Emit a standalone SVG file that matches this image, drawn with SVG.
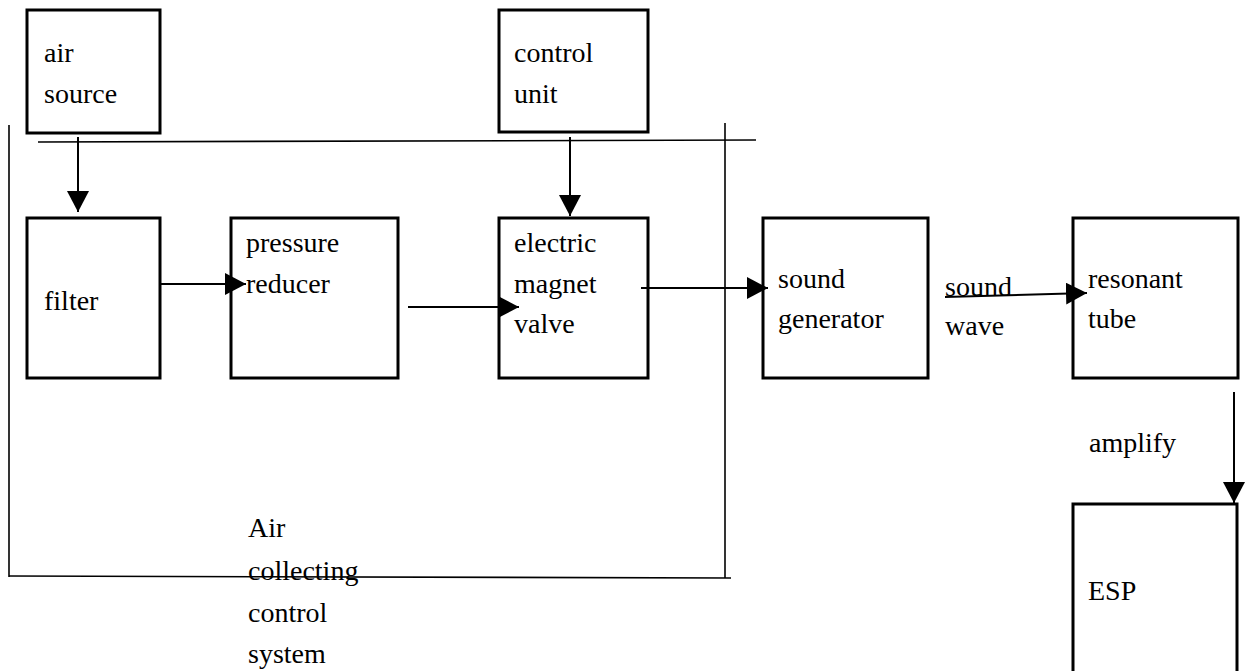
<svg xmlns="http://www.w3.org/2000/svg" width="1251" height="671" viewBox="0 0 1251 671">
<defs>
<style>
.box{fill:#fff;stroke:#000;stroke-width:3}
.t{font-family:"Liberation Serif","Times New Roman",serif;font-size:28px;fill:#000}
.ln{stroke:#000;stroke-width:2;fill:none}
.bus{stroke:#000;stroke-width:1.6;fill:none}
</style>
<marker id="ah" markerUnits="userSpaceOnUse" markerWidth="21" markerHeight="22" refX="21" refY="11" orient="auto">
<path d="M0,0 L21,11 L0,22 z" fill="#000"/>
</marker>
</defs>
<rect width="1251" height="671" fill="#fff"/>
<g id="air-source"><rect class="box" x="27" y="10" width="133" height="123"/><text class="t" x="44" y="62">air</text><text class="t" x="44" y="103">source</text></g>
<g id="control-unit"><rect class="box" x="499" y="10" width="149" height="122"/><text class="t" x="514" y="62">control</text><text class="t" x="514" y="103">unit</text></g>
<g id="filter"><rect class="box" x="27" y="218" width="133" height="160"/><text class="t" x="44" y="310">filter</text></g>
<g id="pressure-reducer"><rect class="box" x="231" y="218" width="167" height="160"/><text class="t" x="246" y="252">pressure</text><text class="t" x="246" y="293">reducer</text></g>
<g id="valve"><rect class="box" x="499" y="218" width="149" height="160"/><text class="t" x="514" y="252">electric</text><text class="t" x="514" y="293">magnet</text><text class="t" x="514" y="333">valve</text></g>
<g id="sound-generator"><rect class="box" x="763" y="218" width="165" height="160"/><text class="t" x="778" y="288">sound</text><text class="t" x="778" y="328">generator</text></g>
<g id="resonant-tube"><rect class="box" x="1073" y="218" width="165" height="160"/><text class="t" x="1088" y="288">resonant</text><text class="t" x="1088" y="328">tube</text></g>
<g id="esp"><rect class="box" x="1073" y="504" width="164" height="190"/><text class="t" x="1088" y="600">ESP</text></g>
<g id="labels">
<text class="t" x="945" y="296">sound</text><text class="t" x="945" y="335">wave</text>
<text class="t" x="1089" y="452">amplify</text>
<text class="t" x="248" y="537">Air</text><text class="t" x="248" y="580">collecting</text><text class="t" x="248" y="622">control</text><text class="t" x="248" y="663">system</text>
</g>
<g id="connectors">
<line class="bus" x1="38" y1="142" x2="756" y2="140"/>
<line class="bus" x1="9" y1="125" x2="9" y2="577"/>
<line class="bus" x1="9" y1="576" x2="731" y2="578"/>
<line class="bus" x1="725" y1="123" x2="725" y2="578"/>
<line class="ln" x1="78" y1="137" x2="78" y2="212" marker-end="url(#ah)"/>
<line class="ln" x1="570" y1="137" x2="570" y2="216" marker-end="url(#ah)"/>
<line class="ln" x1="161" y1="284" x2="246" y2="284" marker-end="url(#ah)"/>
<line class="ln" x1="408" y1="307" x2="519" y2="307" marker-end="url(#ah)"/>
<line class="ln" x1="641" y1="288" x2="768" y2="288" marker-end="url(#ah)"/>
<line class="ln" x1="945" y1="297" x2="1087" y2="293" marker-end="url(#ah)"/>
<line class="ln" x1="1234" y1="392" x2="1234" y2="503" marker-end="url(#ah)"/>
</g>
</svg>
